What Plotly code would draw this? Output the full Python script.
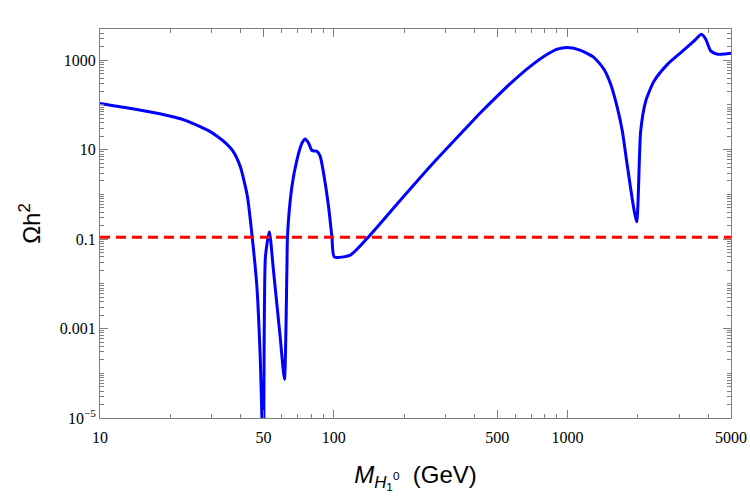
import plotly.graph_objects as go

# Blue curve: relic density vs mass (GeV)
mass = [10, 13.8, 19.4, 23.0, 26.8, 29.0, 31.7, 34.5, 37.1, 39.8, 42.7, 44.7,
        46.9, 48.4, 50.0,
        51.0, 53.0, 55.2, 59.0, 61.5, 63.0, 63.4, 66.2, 69.6, 73.1, 75.5, 78.0,
        80.7, 84.7, 87.5, 90.4, 95.0, 98.2, 100.5, 117.7, 143, 193, 267, 373,
        424, 500, 589, 695, 819, 903, 1002, 1137, 1298, 1431, 1529, 1632, 1715,
        1803, 1973, 2054, 2159, 2344, 2674, 3050, 3478, 3736, 3899, 4093, 4373,
        4700, 5000]
omega = [108, 82, 58, 46, 33, 27, 20, 14, 9.2, 4.2, 0.9, 0.12,
         0.0085, 2.7e-4, 1e-6,
         0.04, 0.146, 0.02, 6.3e-4, 7.4e-5, 0.02, 0.12, 1.5, 6.0, 14, 17.4, 14,
         9.6, 9.2, 7.1, 3.0, 0.53, 0.11, 0.040, 0.044, 0.123, 0.75, 5.1, 33,
         67, 158, 355, 740, 1360, 1770, 1930, 1670, 1150, 630, 290, 87, 26,
         4.2, 0.245, 26, 122, 343, 810, 1480, 2700, 3800, 2960, 1620, 1360,
         1380, 1440]

# Red dashed reference line
ref_x = [10, 5000]
ref_y = [0.11, 0.11]

x_major = [10, 50, 100, 500, 1000, 5000]
x_labels = ["10", "50", "100", "500", "1000", "5000"]
x_minor = [20, 30, 40, 60, 70, 80, 90, 200, 300, 400, 600, 700, 800, 900,
           2000, 3000, 4000]
y_major = [1e-5, 1e-3, 0.1, 10, 1000]
y_labels = ["10<sup>\u22125</sup>", "0.001", "0.1", "10", "1000"]
y_minor = []
for e in range(-5, 4):
    for m in range(1, 10):
        v = m * 10 ** e
        if v not in y_major and v <= 5000:
            y_minor.append(v)

fig = go.Figure()
fig.add_trace(go.Scatter(x=mass, y=omega, mode="lines",
                         line=dict(color="#0000ff", width=3, shape="spline",
                                   smoothing=0.6),
                         showlegend=False))
fig.add_trace(go.Scatter(x=ref_x, y=ref_y, mode="lines",
                         line=dict(color="#ff0000", width=3, dash="10px,6px"),
                         showlegend=False))

axis_common = dict(
    showgrid=False, zeroline=False, showline=True, linecolor="#808080",
    linewidth=1, mirror="ticks", ticks="inside", ticklen=8, tickcolor="#808080",
    tickfont=dict(family="Liberation Serif", size=16, color="black"),
    automargin=False,
)

fig.update_xaxes(type="log", range=[1, 3.69897], tickmode="array",
                 tickvals=x_major, ticktext=x_labels, ticklabelstandoff=5,
                 minor=dict(tickmode="array", tickvals=x_minor, ticks="inside",
                            ticklen=4, tickcolor="#808080"),
                 title=dict(text="<i>M</i><sub><i>H</i><sub>1</sub><sup>0</sup></sub>  (GeV)",
                            font=dict(family="Liberation Sans", size=24, color="black"),
                            standoff=20),
                 **axis_common)
fig.update_yaxes(type="log", range=[-5, 3.69897], tickmode="array",
                 tickvals=y_major, ticktext=y_labels,
                 minor=dict(tickmode="array", tickvals=y_minor, ticks="inside",
                            ticklen=4, tickcolor="#808080"),
                 title=dict(text="\u03a9h<sup>2</sup>",
                            font=dict(family="Liberation Sans", size=24, color="black"),
                            standoff=12),
                 **axis_common)

fig.update_layout(width=750, height=500, plot_bgcolor="white", paper_bgcolor="white",
                  margin=dict(l=100, r=19, t=29, b=82))
fig.write_html("out.html")
